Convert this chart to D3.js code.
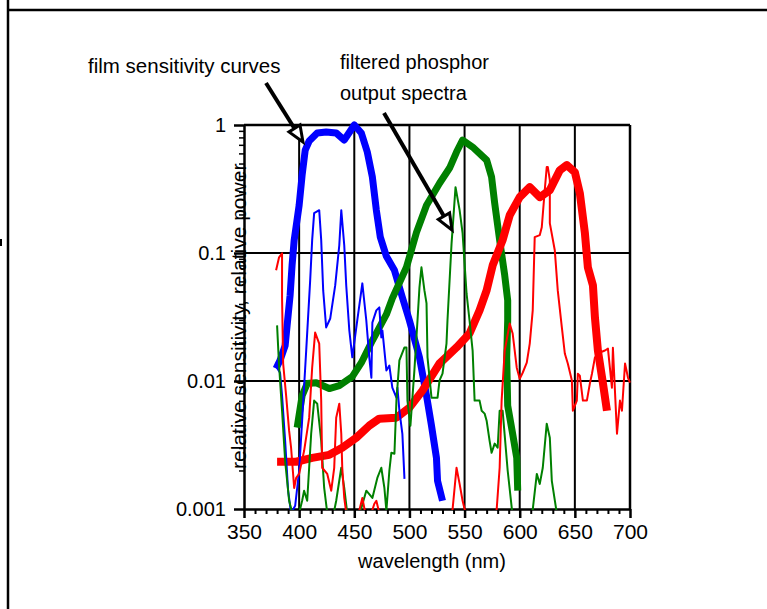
<!DOCTYPE html>
<html>
<head>
<meta charset="utf-8">
<script src="https://cdn.jsdelivr.net/npm/d3@7"></script>
<style>
  body { margin: 0; background: #fff; }
  svg { display: block; }
  text { font-family: Arial, "Liberation Sans", sans-serif; fill: #000; }
</style>
</head>
<body>
<svg id="chart" width="767" height="609"></svg>
<script>
// ---- film sensitivity curves (thick) ----
const blueFilmNm = [379.1,382.7,387.3,389.1,391.8,393.6,395.5,400,402.7,405.5,409.1,416.4,424.5,433.6,440.9,450,456.4,461.8,466.4,470,473.6,479.1,486.4,493.6,500,509.1,515.5,520,524.5,525.5,530];
const blueFilmVal = [0.0125,0.0145,0.0189,0.0272,0.0467,0.0801,0.126,0.236,0.406,0.637,0.750,0.866,0.882,0.866,0.763,1.0,0.866,0.615,0.392,0.216,0.133,0.0942,0.0732,0.045,0.0297,0.0153,0.00769,0.00448,0.00251,0.00166,0.00116];

const greenFilmNm = [398.2,402.7,407.3,415.5,427.3,436.4,448.2,456.4,466.4,479.1,484.5,497.3,506.4,515.5,527.3,536.4,542.7,548.2,557.3,570,574.5,577.3,581.8,586.4,589.1,589.1,588.2,589.1,593.6,597.3,598.2];
const greenFilmVal = [0.00432,0.00768,0.00955,0.0097,0.00873,0.0092,0.0108,0.0139,0.0207,0.0331,0.0442,0.0773,0.145,0.236,0.351,0.461,0.615,0.763,0.673,0.532,0.392,0.245,0.126,0.0669,0.0426,0.0297,0.0153,0.00642,0.00387,0.00251,0.00139];

const redFilmNm = [380,397.3,411.8,427.3,439.1,451.8,463.6,472.7,488.2,500,511.8,527.3,542.7,554.5,563.6,570,575.5,584.5,590.9,600,609.1,618.2,627.3,636.4,642.7,650,654.5,659.1,661.8,666.4,668.2,670.9,675.5,679.1];
const redFilmVal = [0.00234,0.00234,0.00251,0.00265,0.00301,0.0036,0.00448,0.00508,0.00517,0.00619,0.00841,0.0137,0.0183,0.0235,0.0356,0.051,0.0801,0.126,0.197,0.273,0.327,0.273,0.31,0.444,0.486,0.428,0.294,0.143,0.0773,0.0558,0.0314,0.0173,0.00955,0.00586];

// ---- filtered phosphor output spectra (thin) ----
const bluePhosNm = [379.1,382.7,384.5,387.3,390,392.7,396.4,400,402.7,406.4,410,411.8,413.6,418.2,420,421.8,424.5,428.2,432.7,436.4,438.2,440.9,442.7,445.5,448.2,452.7,457.3,460.9,463.6,465.5,466.4,470,472.7,474.5,475.5,479.1,481.8,484.5,488.2,489.1,490.9,493.6,495.5];
const bluePhosVal = [0.013,0.0116,0.00769,0.00341,0.00139,0.00093,0.00106,0.00199,0.0049,0.0173,0.0611,0.126,0.205,0.216,0.126,0.051,0.0262,0.0308,0.0558,0.115,0.216,0.115,0.0558,0.0248,0.0153,0.0297,0.0579,0.0297,0.0153,0.0106,0.0286,0.0356,0.0376,0.0219,0.0248,0.0121,0.0132,0.00887,0.00741,0.00887,0.00586,0.00387,0.00172];

const greenPhosNm = [380,380.9,381.8,384.5,387.3,390.9,394.5,400,402.7,404.5,407.3,410.9,413.6,416.4,420,422.7,425.5,430,433.6,438.2,440.9,443.6,450,456.4,460.9,466.4,470.9,474.5,477.3,479.1,481.8,483.6,486.4,488.2,490.9,495.5,497.3,498.2,500.9,504.5,507.3,509.1,510.9,513.6,515.5,516.4,520,525.5,527.3,530,533.6,534.5,538.2,541.8,545.5,548.2,551.8,554.5,557.3,559.1,563.6,565.5,568.2,570,572.7,574.5,577.3,580,581.8,584.5,589.1,593.6,607.3,611.8,615.5,618.2,620.9,624.5,627.3,629.1,633.6];
const greenPhosVal = [0.0272,0.0189,0.0132,0.00586,0.00238,0.00116,0.00088,0.00093,0.00116,0.00139,0.00116,0.00387,0.00703,0.00665,0.00341,0.00146,0.00093,0.00081,0.00116,0.0021,0.00146,0.00093,0.00081,0.00102,0.00139,0.00122,0.00175,0.0021,0.00146,0.00097,0.00199,0.00275,0.0027,0.00703,0.0145,0.0183,0.0183,0.00703,0.00448,0.0121,0.0297,0.0539,0.0773,0.051,0.0404,0.0153,0.00741,0.00741,0.0101,0.0114,0.0196,0.0297,0.119,0.327,0.216,0.143,0.0483,0.0297,0.0173,0.00703,0.00703,0.00586,0.00556,0.0049,0.00341,0.00275,0.00324,0.00301,0.00586,0.00586,0.00199,0.00088,0.00088,0.00099,0.00188,0.00157,0.0021,0.00464,0.0036,0.00166,0.00093];

const redPhosNm = [379.1,381.8,384.5,384.5,385.5,388.2,390.9,392.7,395.5,397.3,400,404.5,409.1,411.8,414.5,418.2,420,420.9,425.5,429.1,431.8,433.6,436.4,438.2,439.1,440.9,442.7,450,454.5,457.3,460,465.5,468.2,470,472.7,481.8,536.4,539.1,542.7,545.5,548.2,550.9,577.3,579.1,581.8,583.6,586.4,590.9,593.6,597.3,600,602.7,606.4,609.1,611.8,613.6,618.2,620,622.7,624.5,625.5,627.3,627.3,631.8,634.5,638.2,640.9,643.6,647.3,648.2,651.8,652.7,654.5,657.3,660.9,663.6,665.5,668.2,672.7,677.3,680,683.6,684.5,688.2,690.9,692.7,695.5,698.2,700];
const redPhosVal = [0.0732,0.0925,0.0995,0.045,0.0137,0.00769,0.00409,0.00301,0.00146,0.00175,0.00188,0.00285,0.00517,0.0127,0.0239,0.0196,0.00703,0.0021,0.00188,0.00139,0.0021,0.00517,0.00665,0.00387,0.0021,0.00122,0.00093,0.00088,0.00097,0.00122,0.00093,0.00093,0.0011,0.00116,0.00093,0.00088,0.00088,0.00099,0.0021,0.00157,0.00116,0.00093,0.00088,0.00099,0.0021,0.00703,0.0173,0.0281,0.0235,0.0127,0.0104,0.0116,0.0139,0.0196,0.0356,0.133,0.138,0.159,0.31,0.469,0.469,0.371,0.171,0.105,0.051,0.0262,0.0164,0.0137,0.0101,0.00586,0.00703,0.0114,0.011,0.00703,0.00703,0.00955,0.0114,0.0153,0.0167,0.0173,0.0179,0.00887,0.0182,0.00387,0.00703,0.00586,0.0137,0.0106,0.0097];

// ---- axes ----
const xTicks = [350, 400, 450, 500, 550, 600, 650, 700];
const yTicks = [0.001, 0.01, 0.1, 1];
const yTickLabels = ["0.001", "0.01", "0.1", "1"];
const xTitle = "wavelength (nm)";
const yTitle = "relative sensitivity, relative power";
const noteFilm = "film sensitivity curves";
const notePhosphor = ["filtered phosphor", "output spectra"];

const svg = d3.select("#chart");
const plotLeft = 244, plotRight = 630, plotTop = 125, plotBottom = 509;

const x = d3.scaleLinear().domain([350, 700]).range([plotLeft, plotRight]);
const y = d3.scaleLog().domain([0.001, 1]).range([plotBottom, plotTop]);

// page frame
svg.append("line").attr("x1", 8).attr("x2", 8).attr("y1", 0).attr("y2", 609)
  .attr("stroke", "#000").attr("stroke-width", 2.5);
svg.append("line").attr("x1", 8).attr("x2", 767).attr("y1", 10).attr("y2", 10)
  .attr("stroke", "#000").attr("stroke-width", 2.5);
svg.append("rect").attr("x", 0).attr("y", 239).attr("width", 2).attr("height", 7).attr("fill", "#000");

// grid
const grid = svg.append("g").attr("stroke", "#000").attr("stroke-width", 2);
grid.selectAll("line.v").data(xTicks.slice(1, -1)).join("line").attr("class", "v")
  .attr("x1", d => x(d)).attr("x2", d => x(d)).attr("y1", plotTop).attr("y2", plotBottom);
grid.selectAll("line.h").data(yTicks.slice(1, -1)).join("line").attr("class", "h")
  .attr("x1", plotLeft).attr("x2", plotRight).attr("y1", d => y(d)).attr("y2", d => y(d));

// minor ticks
const xMinor = d3.range(350, 701, 10).filter(v => v % 50 !== 0);
svg.append("g").attr("transform", `translate(0,${plotBottom})`)
  .call(d3.axisBottom(x).tickValues(xMinor).tickSize(5).tickFormat(""))
  .call(g => g.select(".domain").remove())
  .selectAll("line").attr("stroke-width", 2);
const yMinor = [];
[0.001, 0.01, 0.1].forEach(b => { for (let k = 2; k <= 9; k++) yMinor.push(b * k); });
svg.append("g").attr("transform", `translate(${plotLeft},0)`)
  .call(d3.axisLeft(y).tickValues(yMinor).tickSize(5).tickFormat(""))
  .call(g => g.select(".domain").remove())
  .selectAll("line").attr("stroke-width", 1.5);

// major axes
const xAxis = svg.append("g").attr("transform", `translate(0,${plotBottom})`)
  .call(d3.axisBottom(x).tickValues(xTicks).tickSize(9).tickSizeOuter(0).tickPadding(6).tickFormat(d3.format("d")));
xAxis.select(".domain").attr("stroke-width", 2.5);
xAxis.selectAll(".tick line").attr("stroke-width", 2.5);
xAxis.selectAll(".tick text").attr("font-size", 21).attr("font-family", "Arial, 'Liberation Sans', sans-serif");

const yAxis = svg.append("g").attr("transform", `translate(${plotLeft},0)`)
  .call(d3.axisLeft(y).tickValues(yTicks).tickSize(10).tickSizeOuter(0).tickPadding(8)
    .tickFormat((d, i) => yTickLabels[i]));
yAxis.select(".domain").attr("stroke-width", 2.5);
yAxis.selectAll(".tick line").attr("stroke-width", 2.5);
yAxis.selectAll(".tick text").attr("font-size", 20).attr("font-family", "Arial, 'Liberation Sans', sans-serif");

// top and right frame of plot
svg.append("line").attr("x1", plotLeft).attr("x2", plotRight).attr("y1", plotTop).attr("y2", plotTop)
  .attr("stroke", "#000").attr("stroke-width", 2.5);
svg.append("line").attr("x1", plotRight).attr("x2", plotRight).attr("y1", plotTop).attr("y2", plotBottom)
  .attr("stroke", "#000").attr("stroke-width", 2.5);

// curves
svg.append("clipPath").attr("id", "plotClip").append("rect")
  .attr("x", plotLeft).attr("y", plotTop - 4).attr("width", plotRight - plotLeft + 2).attr("height", plotBottom - plotTop + 5);
const plot = svg.append("g").attr("clip-path", "url(#plotClip)");
const line = d3.line().x(d => x(d[0])).y(d => y(d[1]));
const zip = (a, b) => a.map((v, i) => [v, b[i]]);

const series = [
  { nm: blueFilmNm, v: blueFilmVal, color: "#0000ff", w: 7 },
  { nm: greenFilmNm, v: greenFilmVal, color: "#008000", w: 7 },
  { nm: redFilmNm, v: redFilmVal, color: "#ff0000", w: 8 },
  { nm: bluePhosNm, v: bluePhosVal, color: "#0000ff", w: 2 },
  { nm: greenPhosNm, v: greenPhosVal, color: "#008000", w: 2 },
  { nm: redPhosNm, v: redPhosVal, color: "#ff0000", w: 2 }
];
plot.selectAll("path.curve").data(series).join("path")
  .attr("class", "curve")
  .attr("d", s => line(zip(s.nm, s.v)))
  .attr("fill", "none").attr("stroke", s => s.color).attr("stroke-width", s => s.w)
  .attr("stroke-linejoin", "round").attr("stroke-linecap", "butt");

// axis titles
svg.append("text").attr("x", 432).attr("y", 568).attr("text-anchor", "middle")
  .attr("font-size", 20).text(xTitle);
svg.append("text").attr("transform", "translate(246,469) rotate(-90)")
  .attr("font-size", 21).text(yTitle);

// annotations
svg.append("text").attr("x", 88).attr("y", 73).attr("font-size", 20.5).text(noteFilm);
svg.append("text").attr("x", 340).attr("y", 69).attr("font-size", 20).text(notePhosphor[0]);
svg.append("text").attr("x", 340).attr("y", 100).attr("font-size", 20).text(notePhosphor[1]);

function arrow(x1, y1, x2, y2) {
  const ang = Math.atan2(y2 - y1, x2 - x1);
  const len = 16, half = 6.5;
  const bx = x2 - len * Math.cos(ang), by = y2 - len * Math.sin(ang);
  const px = -Math.sin(ang), py = Math.cos(ang);
  svg.append("line").attr("x1", x1).attr("y1", y1).attr("x2", bx).attr("y2", by)
    .attr("stroke", "#000").attr("stroke-width", 4);
  svg.append("path")
    .attr("d", `M${x2},${y2}L${bx + px * half},${by + py * half}L${bx - px * half},${by - py * half}Z`)
    .attr("fill", "#fff").attr("stroke", "#000").attr("stroke-width", 3).attr("stroke-linejoin", "miter");
}
arrow(266, 83, 303, 142);
arrow(384, 113, 452, 230);
</script>
</body>
</html>
